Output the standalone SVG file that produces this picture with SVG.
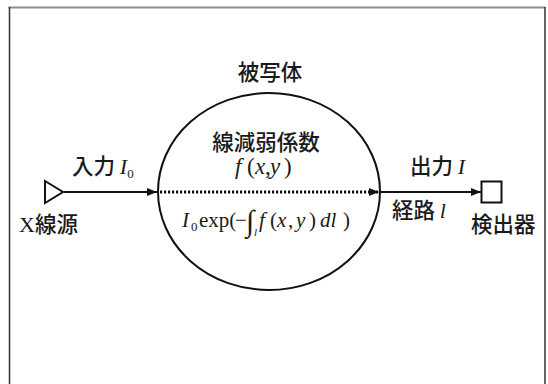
<svg xmlns="http://www.w3.org/2000/svg" width="548" height="384" viewBox="0 0 548 384">
<style>
.cjk{font-family:"Noto Sans CJK JP","Noto Sans",sans-serif;font-size:21.5px;font-weight:500;fill:#1a1a1a}
.ser{font-family:"Liberation Serif","Times New Roman",serif;font-size:22px;fill:#1a1a1a}
.it{font-style:italic}
.ln{stroke:#111;stroke-width:2;fill:none}
</style>
<defs>
<marker id="ah" viewBox="0 0 10 8" refX="10" refY="4" markerWidth="10" markerHeight="8" markerUnits="userSpaceOnUse" orient="auto">
<path d="M0,0 L10,4 L0,8 Z" fill="#111"/>
</marker>
</defs>
<rect width="548" height="384" fill="#fff"/>
<g id="frame">
<line x1="8.5" y1="7.5" x2="545.5" y2="7.5" stroke="#8c8c8c" stroke-width="2"/>
<line x1="9.5" y1="7" x2="9.5" y2="384" stroke="#333" stroke-width="1.5"/>
<line x1="545" y1="7" x2="545" y2="384" stroke="#333" stroke-width="1.5"/>
</g>
<g id="connectors">
<line class="ln" x1="64" y1="192" x2="157" y2="192" marker-end="url(#ah)"/>
<line x1="160" y1="192" x2="379" y2="192" stroke="#111" stroke-width="3" stroke-dasharray="2.2 1.8" marker-end="url(#ah)"/>
<line class="ln" x1="380" y1="192" x2="481" y2="192" marker-end="url(#ah)"/>
</g>
<g id="object">
<ellipse class="ln" cx="269" cy="191.5" rx="111" ry="98.5"/>
<text class="cjk" x="270" y="80" text-anchor="middle">被写体</text>
<text class="cjk" x="266" y="150" text-anchor="middle">線減弱係数</text>
<text class="ser" style="font-size:23px" y="174"><tspan class="it" x="235">f</tspan><tspan x="247">(</tspan><tspan class="it" x="255">x</tspan><tspan x="265">,</tspan><tspan class="it" x="270">y</tspan><tspan x="284">)</tspan></text>
<text class="ser" style="font-size:21px" y="227"><tspan class="it" x="182">I</tspan><tspan style="font-size:13px" x="191" dy="4">0</tspan><tspan x="199" dy="-4">exp(</tspan><tspan x="235">−</tspan><tspan x="246" style="font-size:30px" dy="4">∫</tspan><tspan class="it" style="font-size:11px" x="254" dy="5">l</tspan><tspan class="it" x="259" dy="-9">f</tspan><tspan x="270">(</tspan><tspan class="it" x="277">x</tspan><tspan x="288">,</tspan><tspan class="it" x="296">y</tspan><tspan x="309">)</tspan><tspan class="it" x="320">dl</tspan><tspan x="343">)</tspan></text>
</g>
<g id="source">
<path d="M45,181 L63,192 L45,203 Z" fill="#fff" stroke="#111" stroke-width="2"/>
<text x="19" y="232"><tspan class="ser" style="font-size:22px">X</tspan><tspan class="cjk">線源</tspan></text>
</g>
<g id="detector">
<rect x="481.5" y="181.5" width="20" height="21" fill="#fff" stroke="#111" stroke-width="2"/>
<text class="cjk" x="471" y="232">検出器</text>
</g>
<g id="labels">
<text x="72" y="174"><tspan class="cjk">入力 </tspan><tspan class="ser it">I</tspan><tspan class="ser" style="font-size:13px" dy="4">0</tspan></text>
<text x="410" y="174"><tspan class="cjk">出力 </tspan><tspan class="ser it">I</tspan></text>
<text x="392" y="218"><tspan class="cjk">経路 </tspan><tspan class="ser it">l</tspan></text>
</g>
</svg>
